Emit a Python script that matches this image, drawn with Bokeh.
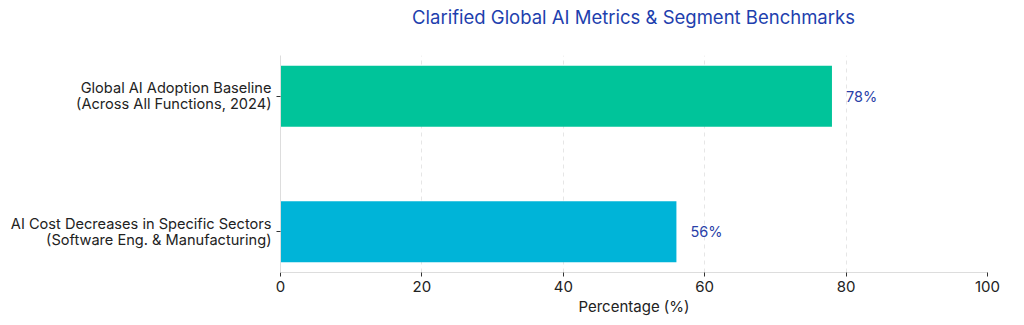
from bokeh.plotting import figure
from bokeh.layouts import column
from bokeh.models import ColumnDataSource, FixedTicker, Range1d, Div
from bokeh.embed import file_html
from bokeh.resources import INLINE
from bokeh.core.properties import value

# Chart data
categories = [
    "AI Cost Decreases in Specific Sectors\n(Software Eng. & Manufacturing)",
    "Global AI Adoption Baseline\n(Across All Functions, 2024)",
]
percentages = [56, 78]
bar_colors = ["#00B4D8", "#00C49A"]
x_ticks = [0, 20, 40, 60, 80, 100]
title_text = "Clarified Global AI Metrics &amp; Segment Benchmarks"

FONT = "Inter"
positions = list(range(len(categories)))

source = ColumnDataSource(dict(
    y=positions,
    pct=percentages,
    color=bar_colors,
    label=[f"{v}%" for v in percentages],
))

# heading row, centred over the plotting area
heading = Div(
    text=title_text, width=781, height=55, margin=(0, 0, 0, 243),
    styles={
        "font-family": FONT, "font-size": "18.5px", "color": "#1E3FAE",
        "text-align": "center", "padding-top": "6px", "line-height": "22px",
        "width": "781px",
    },
)

p = figure(
    width=1024, height=270,
    output_backend="svg", toolbar_location=None,
    x_range=Range1d(0, 100), y_range=Range1d(-0.3, len(categories) - 0.7),
    min_border_left=280, min_border_right=37, min_border_top=0, min_border_bottom=53,
)
p.outline_line_color = None

p.hbar(y="y", right="pct", left=0, height=0.45, color="color", line_color=None, source=source)

p.text(x="pct", y="y", text="label", source=source, x_offset=14,
       text_baseline="middle", text_align="left",
       text_font=value(FONT), text_font_size="14.5px", text_color="#2A3FA8")

# x axis
p.xaxis.ticker = FixedTicker(ticks=x_ticks)
p.xaxis.axis_label = "Percentage (%)"
p.xaxis.axis_label_text_font = FONT
p.xaxis.axis_label_text_font_size = "15px"
p.xaxis.axis_label_text_font_style = "normal"
p.xaxis.axis_label_text_color = "#222222"
p.xaxis.axis_label_standoff = 2
p.xaxis.major_label_text_font = FONT
p.xaxis.major_label_text_font_size = "15px"
p.xaxis.major_label_text_color = "#222222"
p.xaxis.major_label_standoff = 4
p.xaxis.axis_line_color = "#dddddd"
p.xaxis.major_tick_line_color = "#333333"
p.xaxis.major_tick_in = 0
p.xaxis.major_tick_out = 4
p.xaxis.minor_tick_line_color = None

# y axis with category labels
p.yaxis.ticker = FixedTicker(ticks=positions)
p.yaxis.major_label_overrides = {i: c for i, c in zip(positions, categories)}
p.yaxis.major_label_text_font = FONT
p.yaxis.major_label_text_font_size = "14.6px"
p.yaxis.major_label_text_color = "#222222"
p.yaxis.major_label_text_line_height = 0.92
p.yaxis.axis_line_color = "#dddddd"
p.yaxis.major_tick_line_color = "#333333"
p.yaxis.major_tick_in = 0
p.yaxis.major_tick_out = 4
p.yaxis.minor_tick_line_color = None

p.xgrid.grid_line_color = "#e6e6e6"
p.xgrid.grid_line_dash = "4 4"
p.ygrid.grid_line_color = None

layout = column(heading, p, spacing=0)
open("out.html", "w").write(file_html(layout, INLINE))
